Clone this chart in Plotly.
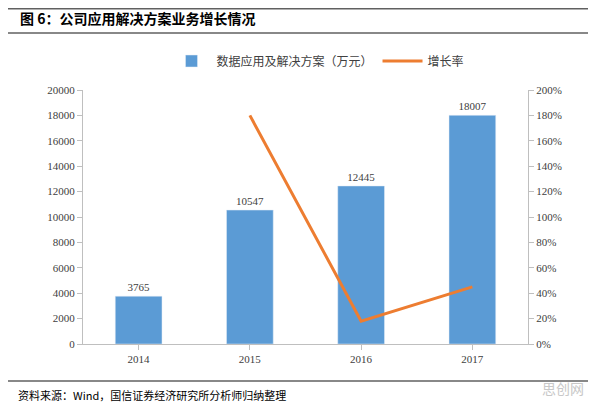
import plotly.graph_objects as go

years = ["2014", "2015", "2016", "2017"]
revenue = [3765, 10547, 12445, 18007]
growth_years = ["2015", "2016", "2017"]
growth = [1.80, 0.18, 0.45]
bar_name = "数据应用及解决方案（万元）"
line_name = "增长率"
title = "图 6：公司应用解决方案业务增长情况"
source = "资料来源：Wind，国信证券经济研究所分析师归纳整理"

W, H, OFF = 596, 396, 8
def px(x): return x / W
def py(y): return 1 - (y - OFF) / H

F = "Noto Sans CJK SC"
fig = go.Figure()
fig.add_bar(x=years, y=revenue, name=bar_name, marker_color="#5B9BD5", width=0.42,
            text=[str(v) for v in revenue], textposition="outside",
            textfont=dict(size=11, color="#404040", family="Liberation Serif"), cliponaxis=False)
fig.add_scatter(x=growth_years, y=growth, name=line_name, yaxis="y2", mode="lines",
                line=dict(color="#ED7D31", width=3))
fig.update_layout(
    width=W, height=H, margin=dict(l=0, r=0, t=0, b=0, autoexpand=False),
    paper_bgcolor="white", plot_bgcolor="white", showlegend=True,
    font=dict(family=F, size=11, color="#404040"),
    legend=dict(orientation="h", x=px(310), xanchor="center", y=py(61), yanchor="middle",
                font=dict(size=12, family=F), itemwidth=40),
    xaxis=dict(domain=[px(75), px(520)], showline=True, linecolor="#bfbfbf", ticks="outside",
               tickcolor="#bfbfbf", ticklen=5, tickfont=dict(family="Liberation Serif", size=11)),
    yaxis=dict(domain=[py(344), py(90)], range=[0, 20000], dtick=2000, tickformat="d",
               showgrid=False, showline=True, linecolor="#bfbfbf", ticks="outside", tickcolor="#bfbfbf",
               tickfont=dict(family="Liberation Serif", size=11)),
    yaxis2=dict(overlaying="y", side="right", range=[0, 2.0], dtick=0.2, tickformat=".0%",
                showgrid=False, showline=True, linecolor="#bfbfbf", ticks="outside",
                tickcolor="#bfbfbf", tickfont=dict(family="Liberation Serif", size=11)),
)
fig.add_annotation(text="<b>" + title + "</b>", x=px(10), y=py(18), xref="paper", yref="paper",
                   xanchor="left", yanchor="middle", showarrow=False, font=dict(size=14, color="#000", family=F))
fig.add_annotation(text=source, x=px(8), y=py(395), xref="paper", yref="paper",
                   xanchor="left", yanchor="middle", showarrow=False, font=dict(size=11, color="#000", family=F))
fig.add_annotation(text="思创网", x=px(578), y=py(388), xref="paper", yref="paper",
                   xanchor="right", yanchor="middle", showarrow=False, font=dict(size=14, color="#c8c8c8", family=F))
for yy, w in [(8.5, 2), (33, 1.5), (381, 1.5)]:
    fig.add_shape(type="line", xref="paper", yref="paper", x0=0, x1=1, y0=py(yy), y1=py(yy),
                  line=dict(color="#606060", width=w))
fig.write_html("out.html")
